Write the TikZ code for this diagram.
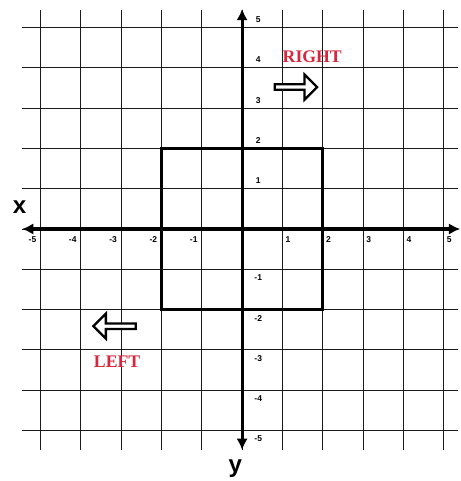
\documentclass[tikz,border=0pt]{standalone}
\usepackage{fontspec}
\setmainfont{Liberation Serif}
\newfontfamily\axisfont{Liberation Sans}
\usetikzlibrary{arrows.meta,shapes.arrows}
\definecolor{gridline}{HTML}{1a1a1a}
\definecolor{labelred}{HTML}{d7263d}

\begin{document}
\begin{tikzpicture}[
        gridstyle/.style={draw=gridline, line width=0.7pt},
        axisstyle/.style={draw=black, line width=2.2pt, {Latex[length=8pt,width=8pt]}-{Latex[length=8pt,width=8pt]}},
        ticklabel/.style={font=\axisfont\fontsize{6}{7}\selectfont\bfseries, inner sep=0pt},
        axislabel/.style={font=\axisfont\fontsize{17}{18}\selectfont\bfseries, inner sep=0pt},
        dirlabel/.style={font=\fontsize{12.5}{14}\selectfont\bfseries, text=labelred, inner sep=0pt},
        dirarrow/.style={single arrow, draw=black, fill=white, line width=1.6pt, inner sep=0pt,
            minimum height=1.05cm, minimum width=0.62cm, single arrow head extend=0.1cm, single arrow head indent=0pt}]

        \useasboundingbox (-6.005,-6.25) rectangle (5.41,5.68);

        % grid
        \foreach \k in {-5,...,5} {
            \draw[gridstyle] (\k,-5.48) -- (\k,5.43);
            \draw[gridstyle] (-5.46,\k) -- (5.36,\k);
        }

        % axes
        \coordinate (xleft) at (-5.46,0);
        \coordinate (xright) at (5.41,0);
        \coordinate (ytop) at (0,5.46);
        \coordinate (ybottom) at (0,-5.48);
        \draw[axisstyle] (xleft) -- (xright);
        \draw[axisstyle] (ybottom) -- (ytop);

        \node[axislabel] (xlabel) at (-5.52,0.55) {x};
        \node[axislabel] (ylabel) at (-0.17,-5.95) {y};

        % tick labels
        \foreach \k in {1,...,5} {
            \node[ticklabel] (xpos\k) at (\k+0.14,-0.27) {\k};
            \node[ticklabel] (xneg\k) at (-\k-0.2,-0.27) {-\k};
            \node[ticklabel] (ypos\k) at (0.4,\k+0.19) {\k};
            \node[ticklabel] (yneg\k) at (0.4,-\k-0.21) {-\k};
        }

        % square
        \draw[line width=2.2pt] (-2,-2) rectangle (2,2);

        % directions
        \node[dirlabel] (right) at (1.74,4.27) {RIGHT};
        \node[dirarrow] (rightarrow) at (1.3,3.52) {};
        \node[dirlabel] (left) at (-3.1,-3.3) {LEFT};
        \node[dirarrow, shape border rotate=180] (leftarrow) at (-3.13,-2.41) {};
      \end{tikzpicture}
\end{document}
